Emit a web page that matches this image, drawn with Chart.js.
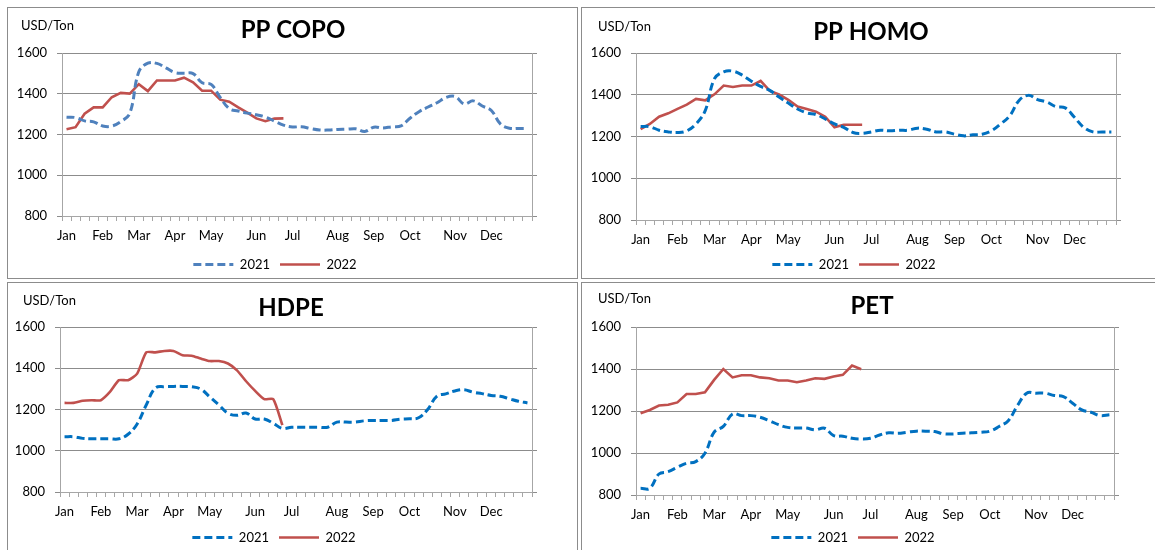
<!DOCTYPE html>
<html>
<head>
<meta charset="utf-8">
<script src="https://cdn.jsdelivr.net/npm/chart.js@4"></script>
<style>
html,body{margin:0;padding:0;background:#fff;width:1155px;height:550px;overflow:hidden;position:relative;font-family:Lato,sans-serif}
.panel{position:absolute;box-sizing:border-box;border:1px solid #8c8c8c;}
.cv{position:absolute;}
</style>
</head>
<body>
<div class="panel" style="left:7px;top:7px;width:571px;height:272px"></div>
<div class="panel" style="left:581px;top:7px;width:576px;height:272px"></div>
<div class="panel" style="left:7px;top:282px;width:571px;height:272px"></div>
<div class="panel" style="left:581px;top:282px;width:576px;height:272px"></div>

<div class="cv" style="left:8px;top:8px;width:569px;height:273px"><canvas id="c1"></canvas></div>
<div class="cv" style="left:582px;top:8px;width:573px;height:273px"><canvas id="c2"></canvas></div>
<div class="cv" style="left:8px;top:283px;width:569px;height:271px"><canvas id="c3"></canvas></div>
<div class="cv" style="left:582px;top:283px;width:573px;height:271px"><canvas id="c4"></canvas></div>

<script>
// ---- data ----
const weekLabels = ['Jan','','','','Feb','','','','Mar','','','','Apr','','','','May','','','','','Jun','','','','Jul','','','','','Aug','','','','Sep','','','','Oct','','','','','Nov','','','','Dec','','','',''];
const seriesNames = ['2021','2022'];
const yTicks = [800, 1000, 1200, 1400, 1600];
const unitLabel = 'USD/Ton';
const titles = ['PP COPO','PP HOMO','HDPE','PET'];

const ppCopo2021 = [1285,1283,1267,1262,1242,1241,1263,1304,1508,1550,1549,1527,1504,1501,1499,1454,1446,1382,1327,1315,1305,1297,1286,1266,1246,1237,1238,1229,1222,1222,1225,1226,1228,1215,1236,1232,1238,1242,1280,1312,1335,1356,1382,1386,1350,1365,1340,1318,1252,1231,1230,1230];
const ppCopo2022 = [1226,1236,1302,1333,1333,1383,1404,1401,1447,1413,1465,1465,1465,1479,1456,1415,1415,1371,1361,1333,1307,1279,1265,1278,1279];

const ppHomo2021 = [1248,1247,1230,1222,1219,1227,1260,1324,1477,1510,1513,1494,1465,1440,1421,1389,1360,1332,1313,1305,1284,1260,1244,1219,1215,1222,1230,1227,1230,1230,1240,1235,1222,1222,1211,1203,1208,1211,1227,1260,1300,1373,1397,1377,1365,1343,1337,1292,1244,1222,1222,1222];
const ppHomo2022 = [1235,1260,1295,1311,1332,1353,1380,1373,1402,1444,1437,1444,1444,1466,1418,1402,1376,1344,1332,1319,1295,1244,1256,1256,1256];

const hdpe2021 = [1068,1068,1060,1058,1058,1058,1058,1080,1130,1222,1304,1311,1312,1312,1310,1299,1261,1222,1182,1172,1183,1154,1154,1133,1108,1114,1114,1114,1114,1114,1139,1139,1139,1145,1147,1147,1147,1153,1155,1160,1200,1264,1276,1290,1296,1284,1277,1268,1264,1252,1240,1232];
const hdpe2022 = [1232,1232,1242,1245,1245,1285,1342,1342,1374,1477,1477,1484,1484,1463,1461,1447,1435,1435,1423,1390,1337,1290,1250,1250,1124];

const pet2021 = [832,832,900,911,932,951,959,999,1099,1127,1186,1178,1178,1170,1154,1135,1122,1119,1119,1110,1118,1083,1080,1070,1067,1070,1086,1096,1094,1099,1104,1104,1102,1091,1091,1094,1096,1099,1104,1126,1154,1226,1285,1285,1285,1274,1269,1237,1205,1194,1178,1182];
const pet2022 = [1189,1205,1226,1230,1241,1281,1281,1289,1348,1400,1360,1370,1370,1360,1356,1345,1345,1337,1345,1356,1353,1364,1372,1416,1399];

// ---- drawing ----
const FONT = 'Lato';
const panelText = {
  id: 'panelText',
  afterDraw(chart, args, o) {
    const ctx = chart.ctx;
    ctx.save();
    ctx.fillStyle = '#000';
    ctx.textBaseline = 'middle';
    ctx.font = 'bold 24px ' + FONT;
    ctx.textAlign = 'center';
    ctx.fillText(o.title, o.titleX, o.titleY);
    ctx.font = '13px ' + FONT;
    ctx.textAlign = 'left';
    ctx.fillText(o.unit, o.unitX, o.unitY);
    ctx.restore();
  }
};

function legendItems(chart) {
  const items = Chart.defaults.plugins.legend.labels.generateLabels(chart);
  items.forEach(it => {
    const ds = chart.data.datasets[it.datasetIndex];
    it.lineDash = ds.borderDash || [];
    it.lineWidth = ds.borderWidth;
    it.strokeStyle = ds.borderColor;
    it.lineCap = 'butt';
  });
  return items;
}

function makeChart(id, title, d2021, d2022, blue, redTension, lay) {
  const ax = '#a6a6a6', gr = '#8c8c8c';
  new Chart(document.getElementById(id), {
    type: 'line',
    data: {
      labels: weekLabels,
      datasets: [
        {label: seriesNames[0], data: d2021, borderColor: blue, backgroundColor: blue, borderWidth: 3,
         borderDash: [8,4], pointRadius: 0, tension: 0.4, fill: false},
        {label: seriesNames[1], data: d2022, borderColor: '#c0504d', backgroundColor: '#c0504d', borderWidth: 2.6,
         pointRadius: 0, tension: redTension, fill: false}
      ]
    },
    options: {
      responsive: true, maintainAspectRatio: false, animation: false,
      layout: {padding: {left: lay.pl, right: lay.pr, top: lay.pt, bottom: 0}},
      scales: {
        x: {
          offset: true,
          grid: {display: true, drawOnChartArea: false, drawTicks: true, tickLength: 5, offset: true, color: ax},
          border: {color: ax},
          ticks: {autoSkip: false, maxRotation: 0, minRotation: 0, padding: 7, color: '#000', font: {family: FONT, size: 13}},
          afterFit(s) { s.height = lay.xh; }
        },
        y: {
          min: yTicks[0], max: yTicks[yTicks.length-1],
          afterBuildTicks(s) { s.ticks = yTicks.map(v => ({value: v})); },
          grid: {color: gr, tickLength: 5},
          border: {color: ax},
          ticks: {padding: 10, color: '#000', font: {family: FONT, size: 13}, callback: v => String(v)},
          afterFit(s) { s.width = 50; }
        },
        y2: {
          position: 'right',
          min: yTicks[0], max: yTicks[yTicks.length-1],
          afterBuildTicks(s) { s.ticks = yTicks.map(v => ({value: v})); },
          grid: {drawOnChartArea: false, color: gr, tickLength: 5},
          border: {color: ax},
          ticks: {display: false},
          afterFit(s) { s.width = 6; }
        }
      },
      plugins: {
        legend: {
          position: 'bottom',
          labels: {usePointStyle: true, pointStyle: 'line', pointStyleWidth: 40, padding: 10,
                   color: '#000', font: {family: FONT, size: 13}, generateLabels: legendItems}
        },
        tooltip: {enabled: false},
        title: {display: false},
        panelText: {title: title, titleX: lay.tx, titleY: lay.ty, unit: unitLabel, unitX: lay.ux, unitY: lay.uy}
      }
    },
    plugins: [panelText]
  });
}

makeChart('c1', titles[0], ppCopo2021, ppCopo2022, '#4f81bd', 0,
  {pl: 4, pr: 39, pt: 45, xh: 32, tx: 285, ty: 22, ux: 13, uy: 18});
makeChart('c2', titles[1], ppHomo2021, ppHomo2022, '#0070c0', 0,
  {pl: 4, pr: 33, pt: 45, xh: 28, tx: 289, ty: 24, ux: 16, uy: 19});
makeChart('c3', titles[2], hdpe2021, hdpe2022, '#0070c0', 0.2,
  {pl: 2, pr: 39, pt: 44, xh: 29, tx: 283, ty: 25, ux: 15, uy: 18});
makeChart('c4', titles[3], pet2021, pet2022, '#0070c0', 0,
  {pl: 4, pr: 35, pt: 44, xh: 26, tx: 290, ty: 23, ux: 16, uy: 16});
</script>
</body>
</html>
